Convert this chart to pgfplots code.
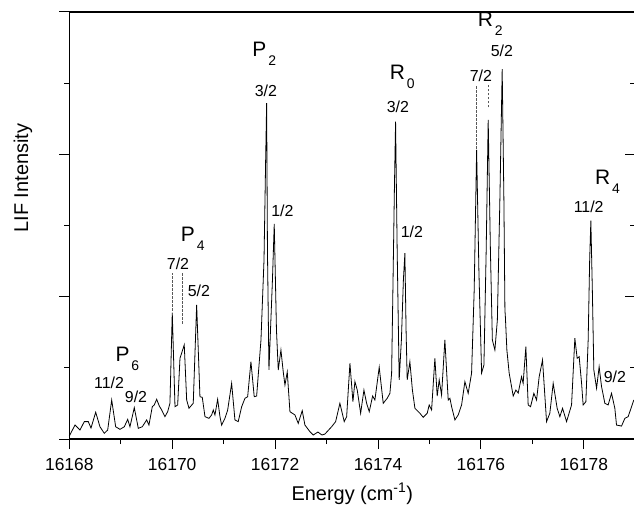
\documentclass[border=0pt]{standalone}
\usepackage{fontspec}
\setmainfont{Liberation Sans}
\usepackage{pgfplots}
\usepackage{pgfplotstable}
\pgfplotsset{compat=1.18}

% LIF spectrum
\pgfplotstableread{
x y
16168.000 0.021
16168.111 0.098
16168.208 0.063
16168.291 0.122
16168.369 0.122
16168.422 0.077
16168.513 0.188
16168.596 0.086
16168.680 0.040
16168.746 0.063
16168.824 0.274
16168.901 0.086
16168.985 0.068
16169.069 0.086
16169.135 0.138
16169.179 0.086
16169.263 0.220
16169.341 0.075
16169.418 0.086
16169.504 0.134
16169.548 0.098
16169.613 0.227
16169.651 0.239
16169.698 0.279
16169.749 0.232
16169.795 0.204
16169.859 0.157
16169.912 0.192
16169.956 0.251
16170.001 0.888
16170.054 0.227
16170.106 0.239
16170.151 0.567
16170.234 0.661
16170.281 0.274
16170.326 0.216
16170.409 0.251
16170.475 0.942
16170.539 0.297
16170.584 0.293
16170.637 0.157
16170.714 0.145
16170.767 0.169
16170.798 0.204
16170.831 0.169
16170.883 0.279
16170.928 0.157
16170.961 0.098
16171.025 0.145
16171.078 0.204
16171.155 0.391
16171.219 0.134
16171.283 0.122
16171.350 0.227
16171.414 0.286
16171.466 0.297
16171.530 0.543
16171.594 0.297
16171.641 0.302
16171.725 0.696
16171.784 1.258
16171.816 1.961
16171.835 2.359
16171.851 1.328
16171.880 0.485
16171.948 1.117
16171.983 1.511
16172.026 0.766
16172.061 0.485
16172.113 0.625
16172.158 0.471
16172.191 0.379
16172.236 0.471
16172.288 0.192
16172.385 0.169
16172.449 0.110
16172.527 0.199
16172.579 0.098
16172.677 0.051
16172.741 0.028
16172.832 0.049
16172.910 0.028
16172.968 0.035
16173.098 0.086
16173.176 0.122
16173.259 0.251
16173.343 0.122
16173.390 0.157
16173.454 0.532
16173.512 0.262
16173.551 0.403
16173.596 0.344
16173.662 0.181
16173.726 0.344
16173.778 0.251
16173.829 0.192
16173.895 0.302
16173.939 0.274
16174.023 0.504
16174.101 0.251
16174.178 0.286
16174.231 0.321
16174.264 0.462
16174.289 1.047
16174.318 1.750
16174.341 2.230
16174.372 1.328
16174.411 0.415
16174.454 0.696
16174.493 1.117
16174.522 1.305
16174.545 0.766
16174.567 0.415
16174.619 0.543
16174.668 0.344
16174.717 0.216
16174.814 0.181
16174.878 0.152
16174.956 0.181
16174.994 0.239
16175.041 0.204
16175.105 0.567
16175.150 0.302
16175.189 0.415
16175.235 0.309
16175.299 0.696
16175.364 0.274
16175.397 0.286
16175.430 0.227
16175.494 0.134
16175.558 0.169
16175.624 0.239
16175.688 0.403
16175.752 0.321
16175.818 0.462
16175.869 1.047
16175.916 2.031
16175.960 1.188
16176.013 0.464
16176.058 0.520
16176.102 1.328
16176.141 2.242
16176.184 1.328
16176.222 0.696
16176.271 0.625
16176.319 0.836
16176.368 1.680
16176.413 2.598
16176.446 1.680
16176.466 0.907
16176.475 0.857
16176.504 0.625
16176.549 0.462
16176.627 0.302
16176.679 0.344
16176.724 0.323
16176.789 0.438
16176.820 0.391
16176.873 0.649
16176.918 0.239
16176.964 0.227
16177.029 0.321
16177.081 0.274
16177.132 0.438
16177.197 0.555
16177.275 0.122
16177.339 0.181
16177.404 0.391
16177.481 0.216
16177.534 0.157
16177.586 0.216
16177.664 0.122
16177.761 0.239
16177.825 0.708
16177.870 0.567
16177.909 0.578
16177.956 0.391
16177.986 0.239
16178.039 0.262
16178.084 0.696
16178.113 1.258
16178.136 1.534
16178.165 1.047
16178.194 0.485
16178.247 0.356
16178.297 0.508
16178.344 0.368
16178.408 0.251
16178.472 0.239
16178.538 0.321
16178.602 0.216
16178.635 0.098
16178.732 0.091
16178.797 0.145
16178.861 0.157
16178.927 0.227
16178.971 0.274
}\spectrum

% branch label with a lowered subscript
\newcommand{\br}[2]{#1\hspace{2bp}\raisebox{-9bp}{\fontsize{14}{14}\selectfont #2}}

\begin{document}
\begin{tikzpicture}
\pgfplotsset{
  spec/.style={
    scale only axis, width=566bp, height=427bp,
    xmin=16168, xmax=16179, ymin=0, ymax=3,
    axis line style={line width=1.2bp},
    every tick/.style={black, line width=1bp},
    major tick length=10bp, minor tick length=5bp,
    ytick={0,1,2,3}, minor y tick num=1, yticklabels={},
  },
}
\begin{axis}[
    spec,
    xtick={16168,16170,16172,16174,16176,16178},
    xticklabels={16168,16170,16172,16174,16176,16178},
    scaled x ticks=false,
    minor x tick num=1,
    xtick pos=left, ytick pos=left, tick align=outside,
    tick label style={font=\fontsize{17.5}{17.5}\selectfont},
    xticklabel style={yshift=-6bp},
    xlabel={Energy (cm\textsuperscript{-1})}, ylabel={LIF Intensity},
    label style={font=\fontsize{20}{20}\selectfont},
    xlabel style={at={(rel axis cs:0.5,-0.128)}, anchor=center},
    ylabel style={at={(rel axis cs:-0.082,0.611)}, anchor=center},
    clip=false,
]
\addplot[black, line width=0.8bp] table {\spectrum};

\begin{scope}[font=\fontsize{21}{21}\selectfont]
\node[anchor=base west] at (axis cs:16168.830,0.541) {\br{P}{6}};
\node[anchor=base west] at (axis cs:16170.100,1.390) {\br{P}{4}};
\node[anchor=base west] at (axis cs:16171.490,2.690) {\br{P}{2}};
\node[anchor=base west] at (axis cs:16174.160,2.523) {\br{R}{0}};
\node[anchor=base west] at (axis cs:16175.870,2.900) {\br{R}{2}};
\node[anchor=base west] at (axis cs:16178.150,1.785) {\br{R}{4}};
\end{scope}
\begin{scope}[font=\fontsize{16}{16}\selectfont]
\node[anchor=base] at (axis cs:16168.773,0.358) {11/2};
\node[anchor=base] at (axis cs:16169.296,0.253) {9/2};
\node[anchor=base] at (axis cs:16170.112,1.188) {7/2};
\node[anchor=base] at (axis cs:16170.520,0.998) {5/2};
\node[anchor=base] at (axis cs:16171.822,2.403) {3/2};
\node[anchor=base] at (axis cs:16172.142,1.560) {1/2};
\node[anchor=base] at (axis cs:16174.386,2.291) {3/2};
\node[anchor=base] at (axis cs:16174.658,1.413) {1/2};
\node[anchor=base] at (axis cs:16176.000,2.509) {7/2};
\node[anchor=base] at (axis cs:16176.407,2.684) {5/2};
\node[anchor=base] at (axis cs:16178.094,1.588) {11/2};
\node[anchor=base] at (axis cs:16178.602,0.394) {9/2};
\end{scope}
\begin{scope}[gray!70!black, line width=0.7bp, dash pattern=on 2.5bp off 1.5bp]
\draw (axis cs:16170.001,0.90) -- (axis cs:16170.001,1.167);
\draw (axis cs:16170.203,0.81) -- (axis cs:16170.203,1.167);
\draw (axis cs:16175.916,2.04) -- (axis cs:16175.916,2.488);
\draw (axis cs:16176.141,2.33) -- (axis cs:16176.141,2.488);
\end{scope}
\end{axis}

% right-hand ticks point inward
\begin{axis}[spec, xtick=\empty, ytick pos=right, tick align=inside]
\end{axis}

\pgfresetboundingbox
\path[use as bounding box] (-69.3bp,-67bp) rectangle (564.7bp,439bp);
\end{tikzpicture}
\end{document}
